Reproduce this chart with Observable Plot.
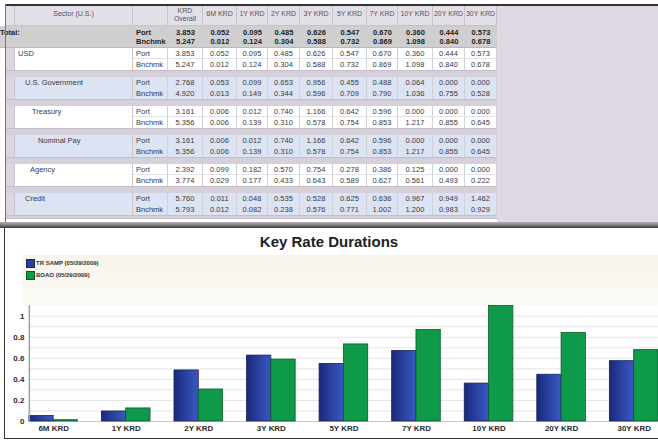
<!DOCTYPE html>
<html><head><meta charset="utf-8">
<script src="https://cdn.jsdelivr.net/npm/d3@7"></script>
<script src="https://cdn.jsdelivr.net/npm/@observablehq/plot@0.6"></script>
<style>
html,body{margin:0;padding:0;background:#fff;width:658px;height:442px;overflow:hidden;font-family:"Liberation Sans",Arial,sans-serif;}
#page{position:relative;width:658px;height:442px;overflow:hidden;background:#fff;}
.c{position:absolute;box-sizing:border-box;overflow:hidden;white-space:nowrap;font-size:7.5px;color:#3a3a44;line-height:11px;}
.t{position:absolute;white-space:nowrap;}
</style></head><body><div id="page"></div>
<script>
// ---------- data ----------
const columnHeaders = ["KRD Overall","6M KRD","1Y KRD","2Y KRD","3Y KRD","5Y KRD","7Y KRD","10Y KRD","20Y KRD","30Y KRD"];
const krdLabels = ["6M KRD","1Y KRD","2Y KRD","3Y KRD","5Y KRD","7Y KRD","10Y KRD","20Y KRD","30Y KRD"];
const rowLabels = ["Port","Bnchmk"];
const sectors = ["USD","U.S. Government","Treasury","Nominal Pay","Agency","Credit"];
const totalPort  = [3.853,0.052,0.095,0.485,0.626,0.547,0.670,0.360,0.444,0.573];
const totalBench = [5.247,0.012,0.124,0.304,0.588,0.732,0.869,1.098,0.840,0.678];
const usdPort    = [3.853,0.052,0.095,0.485,0.626,0.547,0.670,0.360,0.444,0.573];
const usdBench   = [5.247,0.012,0.124,0.304,0.588,0.732,0.869,1.098,0.840,0.678];
const govPort    = [2.768,0.053,0.099,0.653,0.956,0.455,0.488,0.064,0.000,0.000];
const govBench   = [4.920,0.013,0.149,0.344,0.596,0.709,0.790,1.036,0.755,0.528];
const treasPort  = [3.161,0.006,0.012,0.740,1.166,0.642,0.596,0.000,0.000,0.000];
const treasBench = [5.356,0.006,0.139,0.310,0.578,0.754,0.853,1.217,0.855,0.645];
const nomPort    = [3.161,0.006,0.012,0.740,1.166,0.642,0.596,0.000,0.000,0.000];
const nomBench   = [5.356,0.006,0.139,0.310,0.578,0.754,0.853,1.217,0.855,0.645];
const agencyPort = [2.392,0.099,0.182,0.570,0.754,0.278,0.386,0.125,0.000,0.000];
const agencyBench= [3.774,0.029,0.177,0.433,0.643,0.589,0.627,0.561,0.493,0.222];
const creditPort = [5.760,0.011,0.048,0.535,0.528,0.625,0.636,0.967,0.949,1.462];
const creditBench= [5.793,0.012,0.082,0.238,0.576,0.771,1.002,1.200,0.983,0.929];
const seriesNames = ["TR SAMP (05/29/2009)","BOAO (05/29/2009)"];
const chartTitle = "Key Rate Durations";
const tableTitle = "Sector (U.S.)";
const totalLabel = "Total:";

// ---------- table ----------
const page = document.getElementById("page");
function box(x,y,w,h,css,text){
  const d=document.createElement("div");d.className="c";
  d.style.left=x+"px";d.style.top=y+"px";d.style.width=w+"px";d.style.height=h+"px";
  Object.assign(d.style,css||{});
  if(text!==undefined) d.innerHTML=text;
  page.appendChild(d);return d;
}
const colX=[5,15,133,168,203,237,268,300,333,367,398,433,465,497];
// background lavender
box(5,5,653,217,{background:"#ddd8e1"});
// header
for(let i=0;i<13;i++){
  const x=colX[i],w=colX[i+1]-colX[i];
  let txt="";
  if(i===1) txt=tableTitle;
  if(i>=3) txt=columnHeaders[i-3];
  const d=box(x,5,w,21,{background:"#e3dfe7",borderRight:"1px solid #c6c1ca",borderBottom:"1px solid #c6c1ca",textAlign:"center",color:"#55525a",fontSize:"7px"});
  if(i===3){d.innerHTML='<div style="line-height:8px;margin-top:1.5px">KRD<br>Overall</div>';}
  else {d.style.lineHeight="18px";d.textContent=txt;}
}
// total row
box(0,26,497,22,{background:"#cfcfd0",borderBottom:"1px solid #b8b8b8"});
box(0,26,133,22,{fontWeight:"bold",color:"#222",lineHeight:"11px",paddingTop:"1px"},totalLabel);
box(133,26,35,22,{fontWeight:"bold",color:"#222",lineHeight:"9px",paddingTop:"2px",paddingLeft:"3px"},rowLabels.join("<br>"));
for(let j=0;j<10;j++){
  box(colX[j+3],26,colX[j+4]-colX[j+3],22,{fontWeight:"bold",color:"#222",lineHeight:"9px",paddingTop:"2px",textAlign:"center"},
    totalPort[j].toFixed(3)+"<br>"+totalBench[j].toFixed(3));
}
// groups
const groupData=[[usdPort,usdBench],[govPort,govBench],[treasPort,treasBench],[nomPort,nomBench],[agencyPort,agencyBench],[creditPort,creditBench]];
const indents=[18,25,32,38,30,25];
const groupTops=[48,77,106,135,164,193];
groupData.forEach((g,gi)=>{
  const top=groupTops[gi];
  const bg= gi%2===1 ? "#dce3f2" : "#ffffff";
  box(5,top,10,22,{background:"#dbd6df",borderRight:"1px solid #c9c4cd"});
  box(15,top,118,22,{background:bg,borderRight:"1px solid #c9c4cd",paddingLeft:(indents[gi]-15)+"px",lineHeight:"11px"},sectors[gi]);
  for(let r=0;r<2;r++){
    const y=top+r*11;
    box(133,y,35,11,{background:bg,borderRight:"1px solid #cfd0d8",borderBottom:r===0?"1px solid #e2e2ea":"none",paddingLeft:"3px"},rowLabels[r]);
    for(let j=0;j<10;j++){
      box(colX[j+3],y,colX[j+4]-colX[j+3],11,{background:bg,borderRight:"1px solid #cfd0d8",borderBottom:r===0?"1px solid #e2e2ea":"none",textAlign:"center"},g[r][j].toFixed(3));
    }
  }
  box(5,top+22,492,gi===5?3:7,{background:"#d6d0da",borderTop:"1px solid #c4bec8"});
});
// partial next row
box(5,218,492,4,{background:"#fff",borderTop:"1px solid #c4bec8"});
// borders
box(5,4,653,1.5,{background:"#333"});
box(4.5,4,1,218,{background:"#777"});
box(0,222,658,6,{background:"linear-gradient(#b6b0b8,#8d8890 40%,#3e3c40)"});

// ---------- chart panel ----------
box(0,228,658,214,{background:"#fff",overflow:"visible"});
box(3.5,228,1.5,211,{background:"#333"});
box(3.5,437.5,655,1.5,{background:"#333"});
const title=document.createElement("div");title.className="t";
Object.assign(title.style,{left:"0px",width:"658px",top:"233px",textAlign:"center",fontSize:"15px",fontWeight:"bold",color:"#222",fontFamily:"'Liberation Sans',Arial,sans-serif"});
title.textContent=chartTitle;page.appendChild(title);
box(23,255,635,51,{background:"linear-gradient(#f7f5ec,#f9f8f1 70%,#fbfbf7)"});
const legendColors=["#2a3f9e","#0e9a48"];
seriesNames.forEach((n,i)=>{
  box(26,259+i*11.5,9,9,{background:legendColors[i],border:"1px solid "+(i===0?"#1a2560":"#0a5a2c")});
  const t=document.createElement("div");t.className="t";
  Object.assign(t.style,{left:"36px",top:(259+i*11.5)+"px",fontSize:"6px",fontWeight:"bold",color:"#333",lineHeight:"9px"});
  t.textContent=n;page.appendChild(t);
});

// ---------- plot ----------
const W=662, ML=29, PI=0.33;
const step=(W-ML)/(krdLabels.length-PI);
const half=step*(1-PI)/2;
const portKRD=totalPort.slice(1), benchKRD=totalBench.slice(1);
const gridTicks=d3.range(1,11).map(i=>i/10);
const labelTicks=[0,0.2,0.4,0.6,0.8,1];

const defsMark=()=>{
  const g=document.createElementNS("http://www.w3.org/2000/svg","g");
  g.innerHTML='<defs><linearGradient id="blueGrad" x1="0" x2="1" y1="0" y2="0"><stop offset="0" stop-color="#1a287a"/><stop offset="0.6" stop-color="#2d47a8"/><stop offset="1" stop-color="#3a58c0"/></linearGradient></defs>';
  return g;
};
const yLine=(index,scales,values,dims)=>{
  const l=document.createElementNS("http://www.w3.org/2000/svg","line");
  l.setAttribute("x1",dims.marginLeft+0.5);l.setAttribute("x2",dims.marginLeft+0.5);
  l.setAttribute("y1",scales.y(1.1));l.setAttribute("y2",scales.y(0));
  l.setAttribute("stroke","#a0a0a0");l.setAttribute("stroke-width","1.5");
  return l;
};

const chart=Plot.plot({
  width:W,height:184,
  marginLeft:ML,marginRight:0,marginTop:50.5,marginBottom:17,
  style:{fontFamily:"'Liberation Sans Narrow','Liberation Sans',Arial,sans-serif",fontSize:"8px",fontWeight:"bold",color:"#2a2a2a",background:"transparent",overflow:"visible"},
  x:{domain:krdLabels,paddingInner:PI,paddingOuter:0,round:false,label:null,tickSize:0,tickPadding:4},
  y:{domain:[0,1.1],ticks:labelTicks,tickFormat:d=>d===0?"0":d===1?"1":d.toFixed(1),label:null,tickSize:0,tickPadding:5},
  marks:[
    defsMark,
    Plot.ruleY(gridTicks,{stroke:"#e4e4e4",strokeWidth:1}),
    Plot.ruleY([0],{stroke:"#c8c8c8"}),
    Plot.barY(portKRD,{x:(d,i)=>krdLabels[i],y:d=>d,insetRight:half,fill:"url(#blueGrad)",stroke:"#16215a",strokeWidth:0.8}),
    Plot.barY(benchKRD,{x:(d,i)=>krdLabels[i],y:d=>d,insetLeft:half,fill:"#0e9a48",stroke:"#0a5a2c",strokeWidth:0.8}),
    yLine
  ]
});
chart.style.position="absolute";chart.style.left="0px";chart.style.top="255px";
page.appendChild(chart);
</script>
</body></html>
